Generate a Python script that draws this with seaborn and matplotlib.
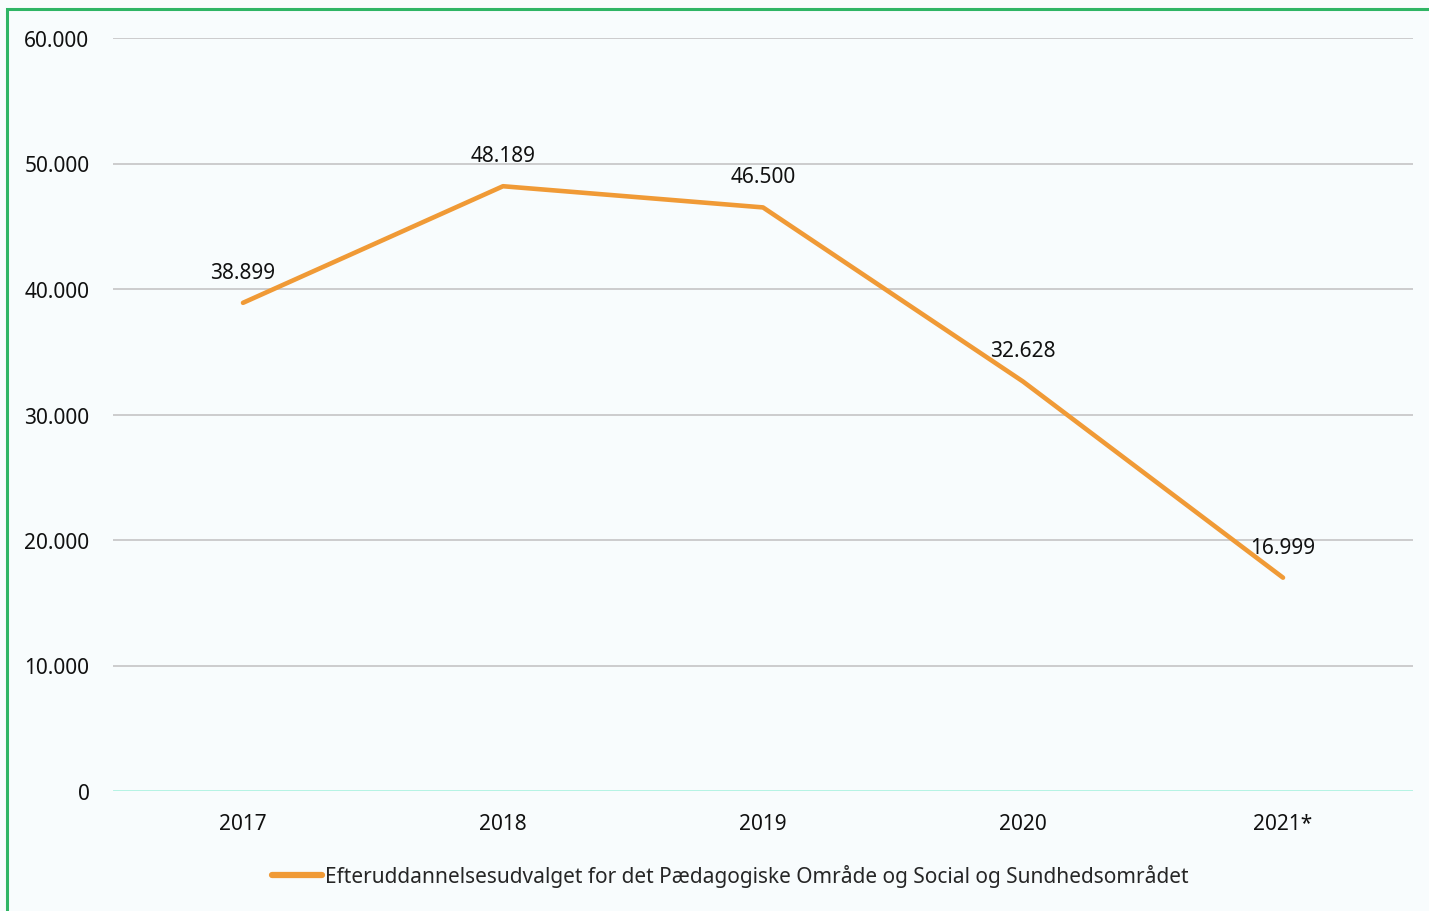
import numpy as np
import pandas as pd
import matplotlib
matplotlib.use("Agg")
import matplotlib.pyplot as plt
import matplotlib.ticker as mticker
from matplotlib.patches import Rectangle
import seaborn as sns

years = ["2017", "2018", "2019", "2020", "2021*"]
values = [38899, 48189, 46500, 32628, 16999]
series_name = "Efteruddannelsesudvalget for det Pædagogiske Område og Social og Sundhedsområdet"
y_ticks = [0, 10000, 20000, 30000, 40000, 50000, 60000]

BG = "#f8fcfd"
ORANGE = "#f09a36"


def dk(v):
    return f"{int(round(v)):,}".replace(",", ".")


sns.set_style("white")
plt.rcParams["font.family"] = ["Noto Sans", "DejaVu Sans"]

df = pd.DataFrame({"year": years, "value": values})

W, H = 1429, 912
fig = plt.figure(figsize=(W / 100, H / 100), dpi=100, facecolor=BG)
ax = fig.add_axes([113 / W, 1 - 792 / H, 1300 / W, (792 - 39) / H])
ax.set_facecolor(BG)

# green frame around the chart area
fig.patches.append(Rectangle((7 / W, -0.1), 1.2, 1 - 10 / H + 0.1, transform=fig.transFigure,
                             fill=False, edgecolor="#2fb565", linewidth=2.2))

for t in y_ticks[1:]:
    ax.axhline(t, color="#c9c9c9", linewidth=1.3, zorder=0)
ax.axhline(0, color="#aef3e2", linewidth=2, zorder=0)

sns.lineplot(data=df, x="year", y="value", ax=ax, color=ORANGE, linewidth=3.3,
             label=series_name, sort=False, solid_capstyle="round")

for i, v in enumerate(values):
    ax.annotate(dk(v), (i, v), xytext=(0, 22), textcoords="offset points",
                ha="center", va="center", fontsize=15, color="#111111")

ax.set_xlim(-0.5, len(years) - 0.5)
ax.set_ylim(0, 60000)
ax.set_yticks(y_ticks)
ax.yaxis.set_major_formatter(mticker.FuncFormatter(lambda v, p: dk(v)))
ax.tick_params(axis="both", length=0, labelsize=15, colors="#111111")
ax.tick_params(axis="y", pad=17)
ax.tick_params(axis="x", pad=16)
ax.set_xlabel("")
ax.set_ylabel("")
for s in ax.spines.values():
    s.set_visible(False)

leg = ax.legend(loc="center", bbox_to_anchor=(730 / W, 1 - 877 / H),
                bbox_transform=fig.transFigure, frameon=False, fontsize=15,
                handlelength=2.4, handletextpad=0.15)
for line in leg.get_lines():
    line.set_linewidth(4.5)
    line.set_solid_capstyle("round")

fig.savefig("out.png", dpi=100, facecolor=BG)
